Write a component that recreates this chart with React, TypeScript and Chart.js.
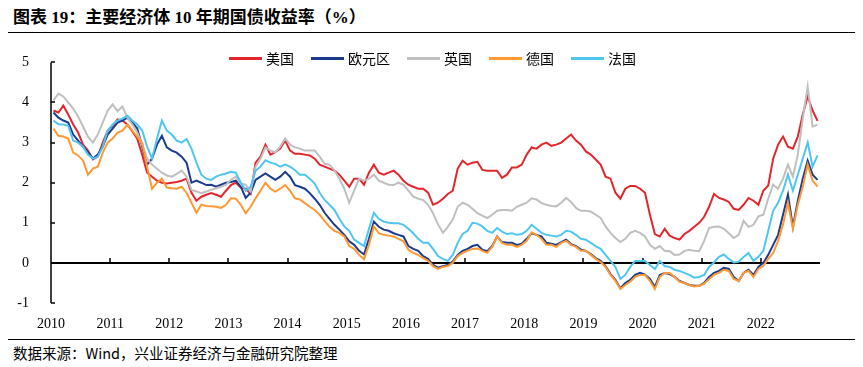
import React, { useEffect, useRef } from "react";
import { Chart, registerables } from "chart.js";

Chart.register(...registerables);

// ---- Data (monthly, Jan 2010 – Dec 2022) ----
const years = ["2010", "2011", "2012", "2013", "2014", "2015", "2016", "2017", "2018", "2019", "2020", "2021", "2022"];
const monthNums = ["01", "02", "03", "04", "05", "06", "07", "08", "09", "10", "11", "12"];
const monthLabels = years.flatMap((y) => monthNums.map((m) => `${y}-${m}`));
const yTickValues = [-1, 0, 1, 2, 3, 4, 5];

const seriesNames = ["美国", "欧元区", "英国", "德国", "法国"];
const seriesColors = ["#E3262B", "#1B3C8D", "#BFBFBF", "#FF9933", "#4FC6F2"];

const us = [
  3.80, 3.75, 3.92, 3.70, 3.45, 3.25, 2.95, 2.80, 2.58, 2.65, 3.00, 3.30,
  3.42, 3.58, 3.55, 3.45, 3.28, 3.10, 2.70, 2.25, 2.15, 2.05, 2.00, 1.98,
  2.00, 2.02, 2.05, 2.10, 1.75, 1.55, 1.65, 1.70, 1.74, 1.70, 1.65, 1.80,
  1.94, 2.00, 1.88, 1.85, 1.72, 2.50, 2.65, 2.95, 2.70, 2.76, 2.85, 3.05,
  2.80, 2.72, 2.72, 2.70, 2.68, 2.60, 2.45, 2.40, 2.35, 2.30, 2.20, 2.05,
  1.90, 2.10, 2.10, 1.95, 2.25, 2.45, 2.25, 2.20, 2.25, 2.30, 2.20, 2.05,
  1.95, 1.90, 1.85, 1.85, 1.75, 1.45, 1.50, 1.60, 1.72, 1.80, 2.35, 2.55,
  2.45, 2.50, 2.52, 2.32, 2.30, 2.30, 2.30, 2.12, 2.20, 2.38, 2.38, 2.45,
  2.70, 2.88, 2.85, 2.95, 3.00, 2.92, 2.95, 3.00, 3.10, 3.20, 3.05, 2.95,
  2.78, 2.70, 2.58, 2.45, 2.15, 2.10, 1.75, 1.60, 1.85, 1.92, 1.92, 1.85,
  1.75, 1.20, 0.72, 0.66, 0.85, 0.68, 0.62, 0.58, 0.72, 0.80, 0.90, 1.00,
  1.15, 1.40, 1.72, 1.62, 1.58, 1.52, 1.35, 1.32, 1.45, 1.62, 1.55, 1.45,
  1.80, 1.93, 2.60, 2.95, 3.15, 2.90, 2.85, 3.15, 3.70, 4.15, 3.80, 3.54,
];

const euro = [
  3.75, 3.62, 3.55, 3.50, 3.20, 3.05, 2.90, 2.76, 2.60, 2.70, 2.90, 3.20,
  3.35, 3.50, 3.55, 3.62, 3.50, 3.35, 2.90, 2.45, 2.60, 2.95, 3.17, 2.88,
  2.80, 2.75, 2.65, 2.50, 2.00, 2.05, 2.00, 1.94, 1.95, 1.90, 1.95, 2.00,
  2.02, 2.05, 1.90, 1.62, 1.75, 2.07, 2.15, 2.23, 2.15, 2.07, 2.15, 2.27,
  2.15, 1.94, 1.90, 1.85, 1.74, 1.60, 1.45, 1.25, 1.10, 0.95, 0.83, 0.70,
  0.54, 0.45, 0.30, 0.21, 0.60, 1.03, 0.90, 0.83, 0.80, 0.74, 0.70, 0.66,
  0.42, 0.35, 0.30, 0.17, 0.10, -0.05, -0.12, -0.08, -0.05, 0.03, 0.20, 0.30,
  0.35, 0.42, 0.45, 0.33, 0.29, 0.42, 0.66, 0.52, 0.50, 0.50, 0.45, 0.48,
  0.60, 0.74, 0.70, 0.66, 0.50, 0.48, 0.45, 0.52, 0.58, 0.47, 0.42, 0.33,
  0.30, 0.22, 0.12, 0.05, -0.08, -0.28, -0.42, -0.63, -0.50, -0.42, -0.30, -0.25,
  -0.29, -0.40, -0.60, -0.30, -0.25, -0.28, -0.35, -0.45, -0.50, -0.55, -0.57, -0.57,
  -0.50, -0.35, -0.25, -0.20, -0.12, -0.15, -0.35, -0.45, -0.25, -0.17, -0.30, -0.10,
  0.00, 0.20, 0.45, 0.70, 1.20, 1.70, 0.90, 1.55, 2.10, 2.55, 2.20, 2.07,
];

const uk = [
  4.05, 4.22, 4.15, 4.00, 3.85, 3.65, 3.40, 3.15, 3.00, 3.20, 3.50, 3.80,
  3.95, 3.78, 3.90, 3.62, 3.45, 3.25, 2.95, 2.60, 2.45, 2.35, 2.25, 2.18,
  2.15, 2.22, 2.30, 2.15, 1.82, 1.78, 1.74, 1.78, 1.82, 1.86, 1.90, 1.95,
  2.07, 2.15, 1.98, 1.95, 1.78, 2.40, 2.60, 2.88, 2.80, 2.76, 2.90, 3.10,
  2.95, 2.88, 2.85, 2.80, 2.80, 2.80, 2.65, 2.47, 2.45, 2.31, 2.10, 1.85,
  1.50, 1.80, 2.10, 2.05, 2.10, 2.20, 2.05, 2.00, 1.95, 1.94, 2.00, 1.95,
  1.80, 1.65, 1.60, 1.57, 1.45, 1.24, 0.96, 0.75, 0.90, 1.08, 1.40, 1.50,
  1.45, 1.35, 1.24, 1.18, 1.12, 1.20, 1.30, 1.32, 1.32, 1.30, 1.40, 1.45,
  1.50, 1.61, 1.58, 1.49, 1.45, 1.42, 1.41, 1.50, 1.62, 1.52, 1.37, 1.30,
  1.30, 1.28, 1.20, 1.12, 0.91, 0.75, 0.62, 0.52, 0.60, 0.75, 0.80, 0.75,
  0.66, 0.45, 0.35, 0.42, 0.30, 0.29, 0.20, 0.21, 0.30, 0.33, 0.30, 0.29,
  0.55, 0.87, 0.90, 0.91, 0.85, 0.74, 0.62, 0.70, 1.05, 0.90, 0.95, 1.16,
  1.20, 1.60, 1.95, 1.85, 2.10, 2.45, 2.15, 2.70, 3.60, 4.40, 3.40, 3.45,
];

const de = [
  3.35, 3.17, 3.15, 3.10, 2.75, 2.68, 2.55, 2.20, 2.35, 2.40, 2.75, 3.00,
  3.10, 3.25, 3.30, 3.45, 3.30, 3.15, 3.00, 2.40, 1.85, 2.00, 2.10, 1.88,
  1.86, 1.85, 1.90, 1.75, 1.50, 1.25, 1.45, 1.42, 1.41, 1.40, 1.37, 1.45,
  1.61, 1.60, 1.45, 1.24, 1.40, 1.61, 1.80, 2.00, 1.85, 1.78, 1.85, 1.94,
  1.80, 1.61, 1.58, 1.49, 1.40, 1.32, 1.20, 1.05, 0.90, 0.80, 0.75, 0.66,
  0.42, 0.35, 0.20, 0.09, 0.45, 0.91, 0.74, 0.70, 0.68, 0.66, 0.60, 0.54,
  0.33, 0.25, 0.20, 0.12, 0.05, -0.08, -0.15, -0.10, -0.08, 0.00, 0.17, 0.25,
  0.30, 0.35, 0.36, 0.30, 0.25, 0.40, 0.66, 0.50, 0.45, 0.45, 0.40, 0.45,
  0.55, 0.76, 0.70, 0.60, 0.45, 0.45, 0.40, 0.50, 0.55, 0.45, 0.40, 0.30,
  0.30, 0.20, 0.10, 0.02, -0.10, -0.30, -0.45, -0.65, -0.55, -0.47, -0.35, -0.30,
  -0.30, -0.45, -0.65, -0.35, -0.25, -0.25, -0.35, -0.47, -0.50, -0.55, -0.59, -0.57,
  -0.52, -0.40, -0.30, -0.25, -0.17, -0.20, -0.40, -0.45, -0.25, -0.20, -0.35, -0.15,
  -0.08, 0.10, 0.25, 0.55, 0.96, 1.50, 0.85, 1.45, 1.90, 2.45, 2.05, 1.90,
];

const fr = [
  3.55, 3.46, 3.45, 3.42, 3.05, 3.00, 2.90, 2.70, 2.60, 2.65, 2.90, 3.30,
  3.45, 3.55, 3.60, 3.67, 3.55, 3.45, 3.30, 2.90, 2.60, 3.10, 3.55, 3.30,
  3.20, 3.05, 3.00, 3.09, 2.85, 2.50, 2.20, 2.10, 2.07, 2.15, 2.20, 2.23,
  2.27, 2.25, 2.00, 1.80, 1.90, 2.30, 2.40, 2.56, 2.50, 2.47, 2.40, 2.45,
  2.40, 2.31, 2.20, 2.20, 2.10, 1.98, 1.75, 1.57, 1.45, 1.32, 1.10, 0.91,
  0.80, 0.58, 0.50, 0.42, 0.85, 1.25, 1.10, 1.03, 1.00, 0.99, 0.99, 0.95,
  0.85, 0.74, 0.60, 0.50, 0.50, 0.35, 0.17, 0.10, 0.05, 0.20, 0.50, 0.72,
  0.80, 1.00, 0.98, 0.91, 0.80, 0.75, 0.87, 0.78, 0.72, 0.74, 0.70, 0.72,
  0.80, 0.95, 0.85, 0.75, 0.70, 0.68, 0.66, 0.70, 0.80, 0.78, 0.70, 0.60,
  0.58, 0.50, 0.42, 0.35, 0.20, 0.05, -0.10, -0.40, -0.30, -0.10, 0.05, 0.05,
  0.05, -0.05, -0.15, 0.05, -0.08, -0.10, -0.17, -0.20, -0.25, -0.30, -0.37, -0.35,
  -0.30, -0.10, 0.01, 0.15, 0.21, 0.10, 0.01, 0.03, 0.15, 0.25, 0.05, 0.15,
  0.30, 0.80, 1.30, 1.50, 1.80, 2.20, 1.80, 2.20, 2.60, 3.00, 2.40, 2.68,
];

const seriesValues = [us, euro, uk, de, fr];

const serifFont = '"Times New Roman", "Liberation Serif", serif';
const cjkFont = '"Noto Sans CJK SC", "Noto Sans", sans-serif';

const axisPlugin = {
  id: "axisLines",
  beforeDatasetsDraw(chart: any) {
    const { ctx, chartArea } = chart;
    const x = chart.scales.x;
    const y = chart.scales.y;
    const left = chartArea.left;
    const yTop = y.getPixelForValue(yTickValues[yTickValues.length - 1]);
    const yBot = y.getPixelForValue(yTickValues[0]);
    const y0 = Math.round(y.getPixelForValue(0));
    ctx.save();
    ctx.strokeStyle = "#000";
    ctx.lineWidth = 1.5;
    ctx.beginPath();
    ctx.moveTo(left, yTop);
    ctx.lineTo(left, yBot);
    yTickValues.forEach((v) => {
      const py = Math.round(y.getPixelForValue(v));
      ctx.moveTo(left, py);
      ctx.lineTo(left + 4, py);
    });
    ctx.stroke();
    ctx.lineWidth = 2;
    ctx.beginPath();
    ctx.moveTo(left, y0);
    ctx.lineTo(chartArea.right, y0);
    ctx.stroke();
    ctx.lineWidth = 1.5;
    ctx.beginPath();
    years.forEach((_, k) => {
      if (k === 0) return;
      const px = Math.round(x.getPixelForValue(k * 12));
      ctx.moveTo(px, y0);
      ctx.lineTo(px, y0 - 5);
    });
    ctx.stroke();
    ctx.restore();
  },
};

export default function App() {
  const canvasRef = useRef<HTMLCanvasElement>(null);

  useEffect(() => {
    const chart = new Chart(canvasRef.current as HTMLCanvasElement, {
      type: "line",
      data: {
        datasets: seriesValues.map((vals, k) => ({
          label: seriesNames[k],
          data: vals.map((v, i) => ({ x: i + 0.5, y: v })),
          borderColor: seriesColors[k],
          backgroundColor: seriesColors[k],
          borderWidth: 2,
          pointRadius: 0,
          tension: 0,
          order: seriesValues.length - k,
        })),
      },
      options: {
        responsive: false,
        animation: false,
        devicePixelRatio: 1,
        layout: { padding: { top: 20, right: 35, left: 0, bottom: 0 } },
        plugins: {
          legend: { display: false },
          tooltip: { enabled: false },
        },
        scales: {
          x: {
            type: "linear",
            min: 0,
            max: monthLabels.length,
            grid: { display: false },
            border: { display: false },
            afterBuildTicks: (s: any) => {
              s.ticks = years.map((_, k) => ({ value: k * 12 }));
            },
            ticks: {
              autoSkip: false,
              maxRotation: 0,
              padding: 5,
              color: "#000",
              font: { family: serifFont, size: 14 },
              callback: (v: any) => years[Math.round(Number(v) / 12)] ?? "",
            },
            afterFit: (s: any) => {
              s.height = 34;
            },
          },
          y: {
            min: yTickValues[0],
            max: yTickValues[yTickValues.length - 1],
            grid: { display: false },
            border: { display: false },
            afterBuildTicks: (s: any) => {
              s.ticks = yTickValues.map((v) => ({ value: v }));
            },
            ticks: {
              padding: 14,
              color: "#000",
              font: { family: serifFont, size: 14 },
              callback: (v: any) => String(v),
            },
            afterFit: (s: any) => {
              s.width = 43;
            },
          },
        },
      } as any,
      plugins: [axisPlugin],
    });
    return () => chart.destroy();
  }, []);

  return (
    <div style={{ position: "relative", width: 847, height: 359, background: "#fff" }}>
      <div
        style={{
          position: "absolute",
          left: 5,
          top: 0,
          height: 20,
          lineHeight: "20px",
          fontSize: 17,
          fontWeight: "bold",
          fontFamily: `"Liberation Serif", "Noto Sans CJK SC", serif`,
          whiteSpace: "nowrap",
          color: "#000",
        }}
      >
        图表 19：主要经济体 10 年期国债收益率（%）
      </div>
      <div style={{ position: "absolute", left: -2, top: 24, width: 850, height: 0, borderTop: "1.5px solid #000" }} />
      <canvas
        ref={canvasRef}
        width={847}
        height={297}
        style={{ position: "absolute", left: 0, top: 32, width: 847, height: 297 }}
      />
      <div
        style={{
          position: "absolute",
          left: 221,
          top: 41,
          height: 18,
          display: "flex",
          alignItems: "center",
          fontFamily: cjkFont,
          fontSize: 14,
          color: "#000",
          whiteSpace: "nowrap",
        }}
      >
        {seriesNames.map((name, k) => (
          <div key={name} style={{ display: "flex", alignItems: "center", marginRight: k < seriesNames.length - 1 ? 17 : 0 }}>
            <span style={{ display: "inline-block", width: 33, height: 3, background: seriesColors[k], marginRight: 4 }} />
            <span style={{ lineHeight: "18px" }}>{name}</span>
          </div>
        ))}
      </div>
      <div style={{ position: "absolute", left: -2, top: 331, width: 850, height: 0, borderTop: "1.5px solid #000" }} />
      <div
        style={{
          position: "absolute",
          left: 5,
          top: 335,
          height: 20,
          lineHeight: "20px",
          fontSize: 14.5,
          fontFamily: cjkFont,
          color: "#000",
          whiteSpace: "nowrap",
        }}
      >
        数据来源：Wind，兴业证券经济与金融研究院整理
      </div>
    </div>
  );
}
